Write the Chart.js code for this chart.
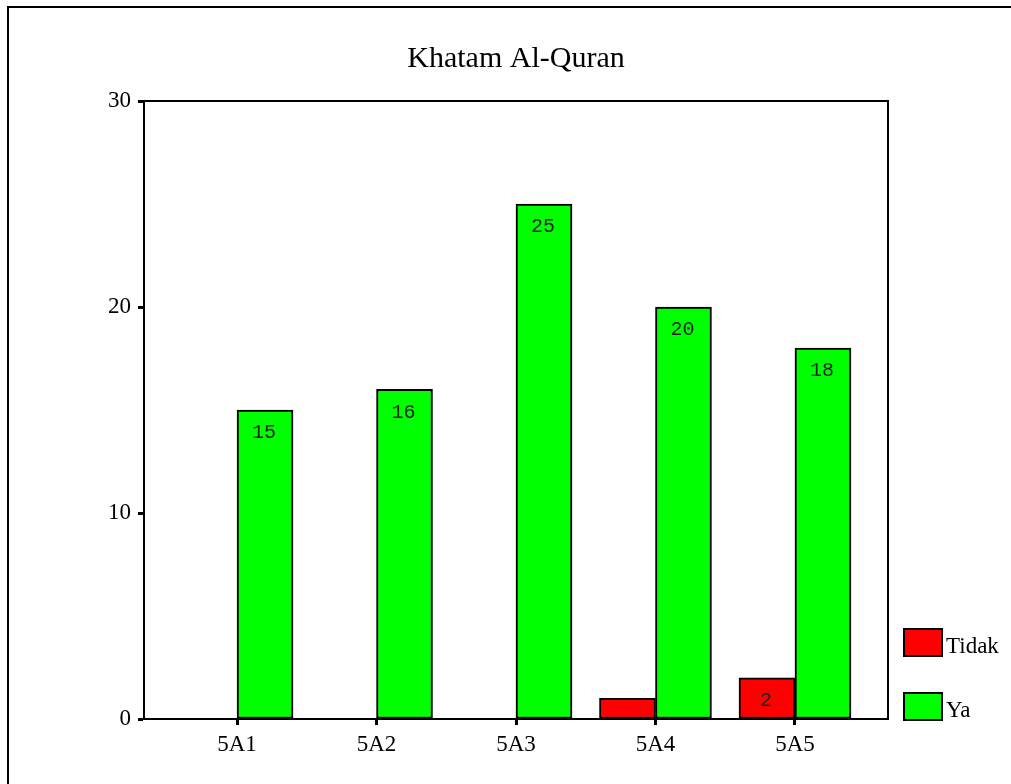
<!DOCTYPE html>
<html>
<head>
<meta charset="utf-8">
<script src="https://cdn.jsdelivr.net/npm/chart.js@4"></script>
<style>
  body { margin: 0; background: #fff; }
  canvas { display: block; }
</style>
</head>
<body>
<canvas id="myChart" width="1011" height="784"></canvas>
<script>
// data
const judul = "Khatam Al-Quran";
const kelas = ["5A1", "5A2", "5A3", "5A4", "5A5"];
const tidak = [0, 0, 0, 1, 2];
const ya = [15, 16, 25, 20, 18];
const yTicks = [0, 10, 20, 30];

// frame, title, plot border, value labels and legend
const decorPlugin = {
  id: "decor",
  afterDraw(chart) {
    const ctx = chart.ctx;
    const a = chart.chartArea;
    ctx.save();
    // outer frame
    ctx.strokeStyle = "#000";
    ctx.lineWidth = 2;
    ctx.beginPath();
    ctx.moveTo(8, 784);
    ctx.lineTo(8, 7);
    ctx.lineTo(1011, 7);
    ctx.stroke();
    // plot box
    ctx.beginPath();
    ctx.moveTo(a.left, a.top);
    ctx.lineTo(a.right, a.top);
    ctx.lineTo(a.right, a.bottom);
    ctx.stroke();

    // title, centred over the plot
    ctx.font = "30px 'Liberation Serif'";
    ctx.fillStyle = "#000";
    ctx.textAlign = "center";
    ctx.textBaseline = "middle";
    ctx.fillText(judul, (a.left + a.right) / 2, 59);

    // values inside the bars
    ctx.font = "20px 'Liberation Mono'";
    ctx.fillStyle = "#222";
    chart.data.datasets.forEach((ds, di) => {
      chart.getDatasetMeta(di).data.forEach((bar, i) => {
        const h = bar.base - bar.y;
        if (h < 30) return;
        ctx.fillText(String(ds.data[i].y), bar.x - 1, bar.y + 23);
      });
    });

    // legend
    ctx.font = "23px 'Liberation Serif'";
    ctx.textAlign = "left";
    chart.data.datasets.forEach((ds, di) => {
      const top = 629 + di * 64;
      ctx.fillStyle = ds.backgroundColor;
      ctx.fillRect(904, top, 38, 27);
      ctx.strokeStyle = "#000";
      ctx.lineWidth = 2;
      ctx.strokeRect(904, top, 38, 27);
      ctx.fillStyle = "#000";
      ctx.fillText(ds.label, 946, top + 18);
    });
    ctx.restore();
  },
};

const ctx = document.getElementById("myChart").getContext("2d");
const myChart = new Chart(ctx, {
  type: "bar",
  data: {
    datasets: [
      {
        label: "Tidak",
        data: tidak.map((v, i) => ({ x: i, y: v })),
        backgroundColor: "#ff0000",
        borderColor: "#000",
        borderWidth: 2,
        borderSkipped: false,
        barThickness: 56,
      },
      {
        label: "Ya",
        data: ya.map((v, i) => ({ x: i, y: v })),
        backgroundColor: "#00ff00",
        borderColor: "#000",
        borderWidth: 2,
        borderSkipped: false,
        barThickness: 56,
      },
    ],
  },
  options: {
    responsive: false,
    animation: false,
    layout: { padding: { left: 0, right: 123, top: 101, bottom: 0 } },
    plugins: {
      legend: { display: false },
      tooltip: { enabled: false },
      title: { display: false },
    },
    scales: {
      x: {
        type: "linear",
        offset: false,
        min: -0.667,
        max: 4.667,
        afterBuildTicks: (scale) => {
          scale.ticks = kelas.map((_, i) => ({ value: i }));
        },
        afterFit: (scale) => {
          scale.height = 65;
        },
        grid: {
          offset: false,
          drawOnChartArea: false,
          tickLength: 6,
          tickWidth: 3,
          tickColor: "#000",
        },
        border: { color: "#000", width: 2 },
        ticks: {
          color: "#000",
          padding: 6,
          maxRotation: 0,
          font: { family: "Liberation Serif", size: 23 },
          callback: (v) => kelas[v],
        },
      },
      y: {
        min: 0,
        max: 30,
        afterBuildTicks: (scale) => {
          scale.ticks = yTicks.map((v) => ({ value: v }));
        },
        afterFit: (scale) => {
          scale.width = 144;
        },
        grid: {
          drawOnChartArea: false,
          tickLength: 6,
          tickWidth: 3,
          tickColor: "#000",
        },
        border: { color: "#000", width: 2 },
        ticks: {
          color: "#000",
          padding: 7,
          font: { family: "Liberation Serif", size: 23 },
        },
      },
    },
  },
  plugins: [decorPlugin],
});
</script>
</body>
</html>
